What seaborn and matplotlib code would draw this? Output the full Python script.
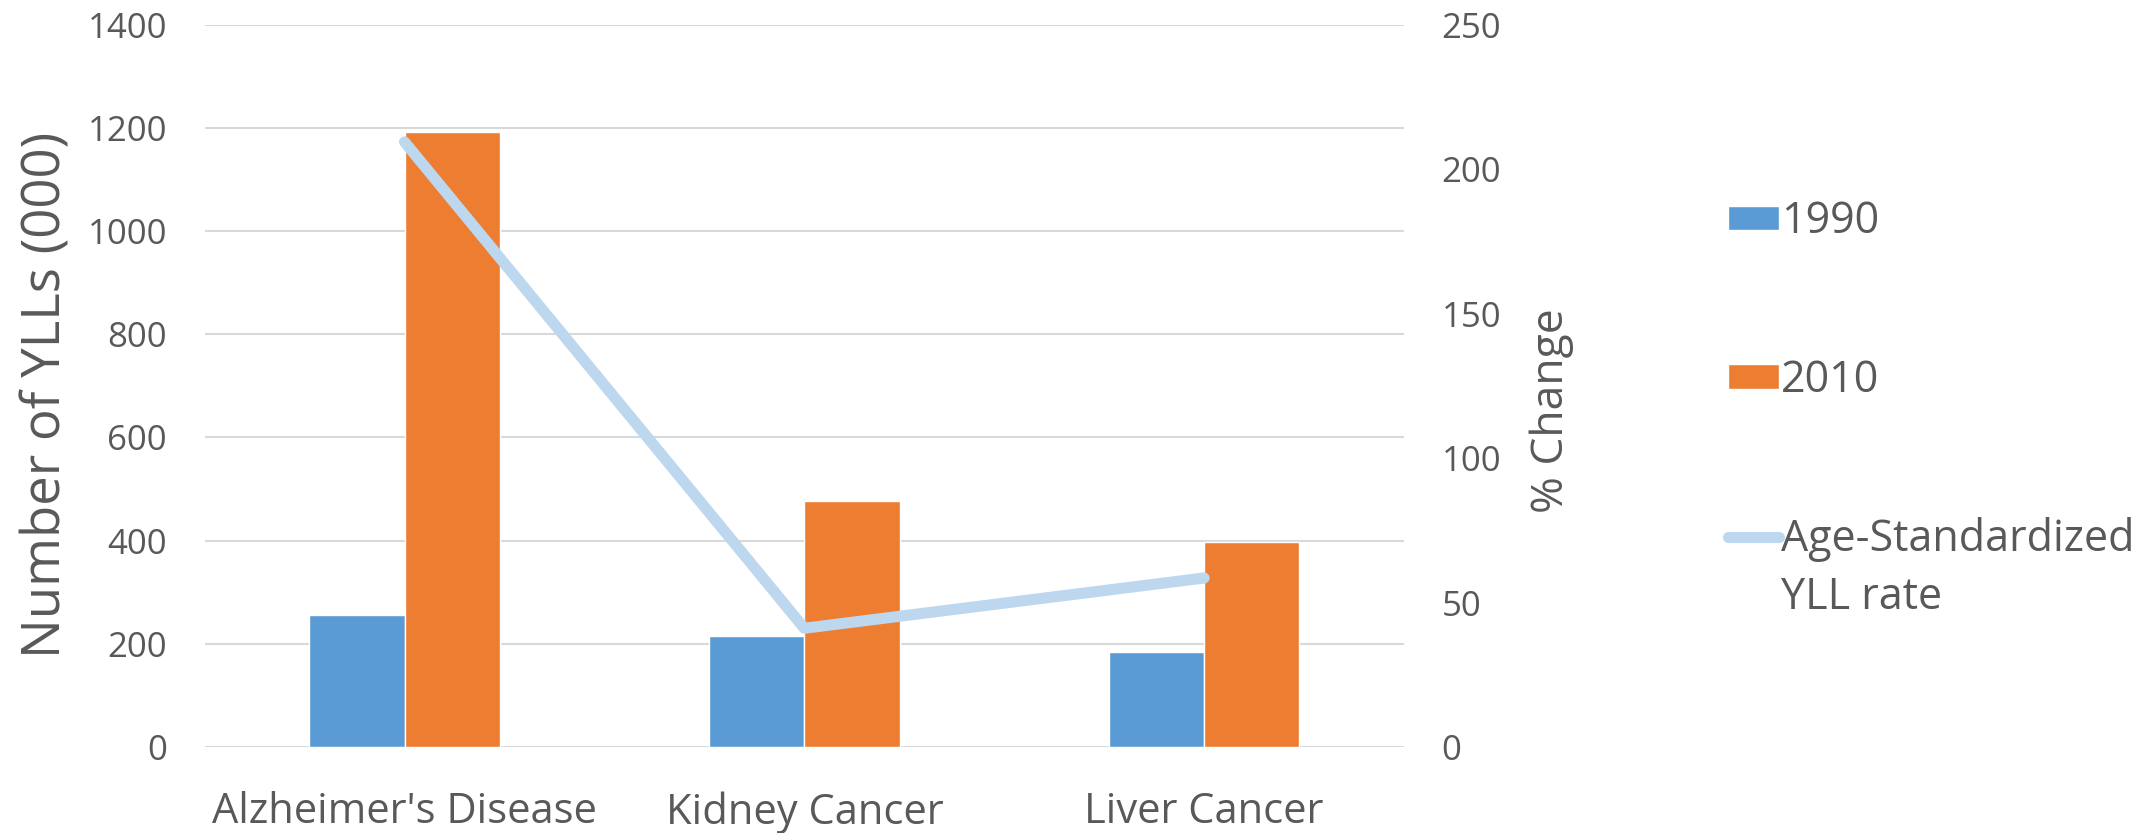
import numpy as np
import pandas as pd
import matplotlib
matplotlib.use("Agg")
import matplotlib.pyplot as plt
import seaborn as sns

# Years of life lost by cause, 1990 vs 2010, and % change in age-standardized rate
causes = ["Alzheimer's Disease", "Kidney Cancer", "Liver Cancer"]
years = ["1990", "2010"]
yll_1990 = [256, 216, 184]
yll_2010 = [1192, 476, 398]
pct_change = [209.4, 41.1, 58.5]
line_label = "Age-Standardized"
line_label_2 = "YLL rate"

left_ticks = [0, 200, 400, 600, 800, 1000, 1200, 1400]
right_ticks = [0, 50, 100, 150, 200, 250]

bar_colors = ["#5B9BD5", "#ED7D31"]
line_color = "#BDD7EE"
text_color = "#595959"
grid_color = "#D9D9D9"

sns.set_style("white")
plt.rcParams["font.family"] = ["Open Sans", "DejaVu Sans"]
plt.rcParams["text.color"] = text_color
plt.rcParams["axes.labelcolor"] = text_color
plt.rcParams["xtick.color"] = text_color
plt.rcParams["ytick.color"] = text_color

bars = pd.DataFrame({
    "cause": causes * 2,
    "year": [years[0]] * len(causes) + [years[1]] * len(causes),
    "yll": yll_1990 + yll_2010,
})
change = pd.DataFrame({"cause": causes, "pct": pct_change})

fig = plt.figure(figsize=(21.38, 8.33), dpi=100)
ax = fig.add_axes([0.0957, 0.1032, 0.561, 0.8673])

sns.barplot(data=bars, x="cause", y="yll", hue="year", order=causes,
            hue_order=years, palette=bar_colors, width=0.477, gap=0,
            saturation=1, ax=ax, zorder=2)
ax.set_ylim(0, 1400)
ax.set_yticks(left_ticks)
ax.yaxis.grid(True, color=grid_color, linewidth=1.5, zorder=0)
ax.set_axisbelow(True)
for s in ax.spines.values():
    s.set_visible(False)
ax.tick_params(axis="both", length=0)
ax.tick_params(axis="y", pad=27, labelsize=25)
ax.tick_params(axis="x", pad=32, labelsize=30)
ax.set_xlabel("")
ax.set_ylabel("Number of YLLs (000)", fontsize=38)
ax.yaxis.set_label_coords(-0.1095, 0.487)

bar_handles, bar_labels = ax.get_legend_handles_labels()
ax.get_legend().remove()

ax2 = ax.twinx()
sns.lineplot(data=change, x="cause", y="pct", color=line_color, linewidth=8,
             sort=False, solid_capstyle="round", ax=ax2, label=line_label)
ax2.set_ylim(0, 250)
ax2.set_yticks(right_ticks)
ax.set_xlim(-0.5, len(causes) - 0.5)
for s in ax2.spines.values():
    s.set_visible(False)
ax2.tick_params(axis="y", length=0, labelsize=25, pad=27)
ax2.set_ylabel("% Change", fontsize=32)
ax2.yaxis.set_label_coords(1.105, 0.466)
line_handles, line_labels = ax2.get_legend_handles_labels()
if ax2.get_legend() is not None:
    ax2.get_legend().remove()

leg = fig.legend(bar_handles + line_handles, bar_labels + line_labels,
                 loc="upper left", bbox_to_anchor=(0.808, 0.760), frameon=False,
                 fontsize=31, handlelength=1.2, handleheight=0.5,
                 handletextpad=0.05, labelspacing=2.65, borderpad=0,
                 borderaxespad=0)

# second line of the last legend label, set one line below the first line
fig.canvas.draw()
first = leg.get_texts()[-1]
bx, by = first.get_transform().transform(first.get_position())
line_gap = 58
fx, fy = fig.transFigure.inverted().transform((bx, by - line_gap))
fig.text(fx, fy, line_label_2, fontsize=31, ha="left", va="baseline",
         color=text_color)

fig.savefig("out.png", dpi=100, facecolor="white")
